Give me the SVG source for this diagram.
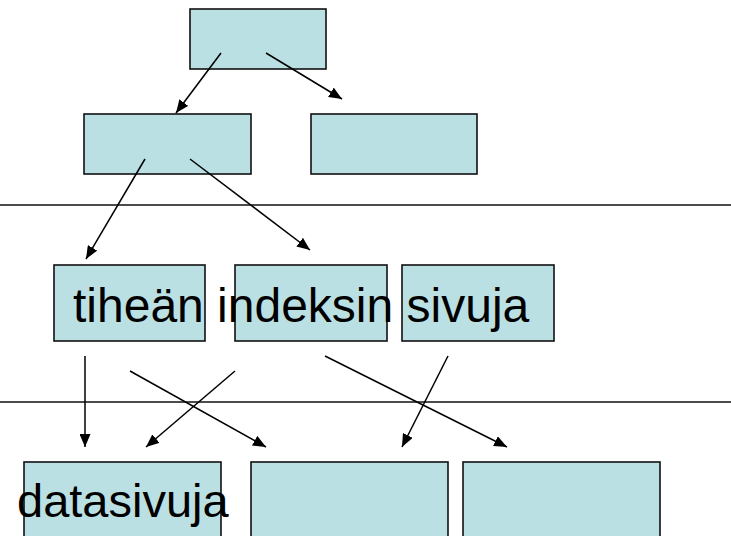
<svg xmlns="http://www.w3.org/2000/svg" width="731" height="536" viewBox="0 0 731 536">
  <style>
    .node rect { fill: #BBE0E3; stroke: #111; stroke-width: 1.6; }
    .sep { stroke: #111; stroke-width: 1.6; }
    .edge { stroke: #000; stroke-width: 1.5; fill: none; marker-end: url(#arrow); }
    .label { font-family: "Liberation Sans", Arial, sans-serif; fill: #000; }
  </style>
  <defs>
    <marker id="arrow" markerUnits="userSpaceOnUse" markerWidth="13" markerHeight="11" refX="13" refY="5.5" orient="auto">
      <path d="M0,0 L13,5.5 L0,11 z" fill="#000"/>
    </marker>
  </defs>
  <rect width="731" height="536" fill="#fff"/>

  <!-- level separators -->
  <line class="sep" x1="0" y1="205" x2="731" y2="205"/>
  <line class="sep" x1="0" y1="402" x2="731" y2="402"/>

  <!-- root -->
  <g id="root" class="node"><rect x="190" y="9" width="136" height="60"/></g>
  <!-- second level -->
  <g id="inner-left" class="node"><rect x="84" y="114" width="167" height="60"/></g>
  <g id="inner-right" class="node"><rect x="311" y="114" width="166" height="60"/></g>
  <!-- dense index pages -->
  <g id="index-1" class="node"><rect x="54" y="265" width="151" height="76"/></g>
  <g id="index-2" class="node"><rect x="235" y="265" width="152" height="76"/></g>
  <g id="index-3" class="node"><rect x="402" y="265" width="152" height="76"/></g>
  <!-- data pages -->
  <g id="data-1" class="node"><rect x="24" y="462" width="197" height="80"/></g>
  <g id="data-2" class="node"><rect x="251" y="462" width="197" height="80"/></g>
  <g id="data-3" class="node"><rect x="463" y="462" width="197" height="80"/></g>

  <!-- pointers -->
  <g id="edges">
    <line class="edge" x1="221" y1="53" x2="176" y2="113"/>
    <line class="edge" x1="266" y1="53" x2="342" y2="99"/>
    <line class="edge" x1="145" y1="159" x2="86" y2="259"/>
    <line class="edge" x1="190" y1="159" x2="310" y2="250"/>
    <line class="edge" x1="85" y1="356" x2="85" y2="447"/>
    <line class="edge" x1="130" y1="371" x2="266" y2="447"/>
    <line class="edge" x1="235" y1="371" x2="146" y2="447"/>
    <line class="edge" x1="325" y1="356" x2="507" y2="447"/>
    <line class="edge" x1="448" y1="356" x2="402" y2="447"/>
  </g>

  <!-- labels -->
  <text class="label" x="73" y="322" font-size="48">tiheän indeksin sivuja</text>
  <text class="label" x="17" y="517" font-size="47">datasivuja</text>
</svg>
